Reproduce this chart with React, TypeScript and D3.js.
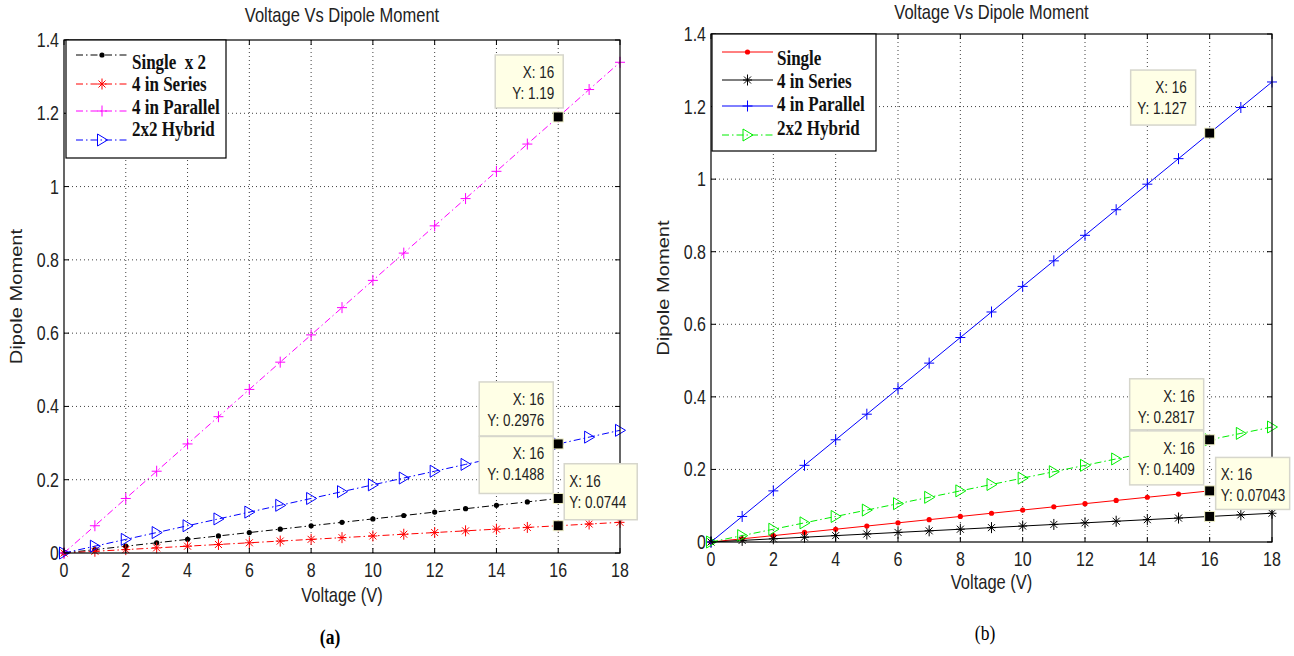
import React from "react";
import * as d3 from "d3";

// ---- data ----
const voltage = [0, 1, 2, 3, 4, 5, 6, 7, 8, 9, 10, 11, 12, 13, 14, 15, 16, 17, 18];

// panel (a)
const singleX2A = [0, 0.0093, 0.0186, 0.0279, 0.0372, 0.0465, 0.0558, 0.0651, 0.0744, 0.0837, 0.093, 0.1023, 0.1116, 0.1209, 0.1302, 0.1395, 0.1488, 0.1581, 0.1674];
const seriesA = [0, 0.0047, 0.0093, 0.014, 0.0186, 0.0233, 0.0279, 0.0326, 0.0372, 0.0419, 0.0465, 0.0512, 0.0558, 0.0605, 0.0651, 0.0698, 0.0744, 0.0791, 0.0837];
const parallelA = [0, 0.0744, 0.1488, 0.2232, 0.2976, 0.372, 0.4464, 0.5208, 0.5952, 0.6696, 0.744, 0.8184, 0.8928, 0.9672, 1.0416, 1.116, 1.19, 1.2648, 1.3392];
const hybridA = [0, 0.0186, 0.0372, 0.0558, 0.0744, 0.093, 0.1116, 0.1302, 0.1488, 0.1674, 0.186, 0.2046, 0.2232, 0.2418, 0.2604, 0.279, 0.2976, 0.3162, 0.3348];

// panel (b)
const singleB = [0, 0.0088, 0.0176, 0.0264, 0.0352, 0.044, 0.0528, 0.0616, 0.0704, 0.0793, 0.0881, 0.0969, 0.1057, 0.1145, 0.1233, 0.1321, 0.1409, 0.1497, 0.1585];
const seriesB = [0, 0.0044, 0.0088, 0.0132, 0.0176, 0.022, 0.0264, 0.0308, 0.0352, 0.0396, 0.044, 0.0484, 0.0528, 0.0572, 0.0616, 0.066, 0.0704, 0.0748, 0.0792];
const parallelB = [0, 0.0704, 0.1409, 0.2113, 0.2817, 0.3522, 0.4226, 0.493, 0.5635, 0.6339, 0.7044, 0.7748, 0.8452, 0.9157, 0.9861, 1.0565, 1.127, 1.1974, 1.2678];
const hybridB = [0, 0.0176, 0.0352, 0.0528, 0.0704, 0.088, 0.1056, 0.1232, 0.1409, 0.1585, 0.1761, 0.1937, 0.2113, 0.2289, 0.2465, 0.2641, 0.2817, 0.2993, 0.3169];

const xTicks = [0, 2, 4, 6, 8, 10, 12, 14, 16, 18];
const yTicks = [0, 0.2, 0.4, 0.6, 0.8, 1, 1.2, 1.4];
const yTickLabels = ["0", "0.2", "0.4", "0.6", "0.8", "1", "1.2", "1.4"];

const legendA = ["Single  x 2", "4 in Series", "4 in Parallel", "2x2 Hybrid"];
const legendB = ["Single", "4 in Series", "4 in Parallel", "2x2 Hybrid"];

const tipXA = [16, 16, 16, 16];
const tipYA = [1.19, 0.2976, 0.1488, 0.0744];
const tipLabelA = ["1.19", "0.2976", "0.1488", "0.0744"];
const tipXB = [16, 16, 16, 16];
const tipYB = [1.127, 0.2817, 0.1409, 0.07043];
const tipLabelB = ["1.127", "0.2817", "0.1409", "0.07043"];

const titleText = "Voltage Vs Dipole Moment";

const SANS = "'Liberation Sans', Arial, Helvetica, sans-serif";
const SERIF = "'Liberation Serif', 'Times New Roman', serif";
const DASHDOT = "7,3,1.5,3";
const STRETCH = 1.22; // the figure is stretched vertically

// text drawn with the figure's vertical stretch
function T({
  x,
  y,
  size,
  anchor = "start",
  family = SANS,
  weight = "normal",
  rotate = 0,
  fill = "#222",
  children,
}: {
  x: number;
  y: number;
  size: number;
  anchor?: string;
  family?: string;
  weight?: string;
  rotate?: number;
  fill?: string;
  children: React.ReactNode;
}) {
  const tr = rotate
    ? `translate(${x},${y}) rotate(${rotate}) scale(${STRETCH},1)`
    : `translate(${x},${y}) scale(1,${STRETCH})`;
  return (
    <text
      transform={tr}
      textAnchor={anchor}
      fontFamily={family}
      fontWeight={weight}
      fontSize={size}
      fill={fill}
      style={{ whiteSpace: "pre" }}
    >
      {children}
    </text>
  );
}

type MarkerType = "dot" | "star" | "plus" | "triR";

function Marker({ type, cx, cy, color }: { type: MarkerType; cx: number; cy: number; color: string }) {
  if (type === "dot") return <circle cx={cx} cy={cy} r={2.6} fill={color} />;
  if (type === "plus")
    return (
      <path d={`M${cx - 5},${cy}H${cx + 5}M${cx},${cy - 5.5}V${cy + 5.5}`} stroke={color} strokeWidth={1} fill="none" />
    );
  if (type === "star")
    return (
      <path
        d={`M${cx - 4.5},${cy}H${cx + 4.5}M${cx},${cy - 5.5}V${cy + 5.5}M${cx - 3.5},${cy - 3.5}L${cx + 3.5},${cy + 3.5}M${cx - 3.5},${cy + 3.5}L${cx + 3.5},${cy - 3.5}`}
        stroke={color}
        strokeWidth={1}
        fill="none"
      />
    );
  return (
    <path
      d={`M${cx - 4.5},${cy - 6}L${cx + 5.5},${cy}L${cx - 4.5},${cy + 6}Z`}
      stroke={color}
      strokeWidth={1}
      fill="none"
    />
  );
}

interface Series {
  values: number[];
  color: string;
  dash?: string;
  marker: MarkerType;
}

interface PanelProps {
  left: number;
  right: number;
  top: number;
  bottom: number;
  series: Series[];
  legendNames: string[];
  legendBox: { x: number; y: number; w: number; h: number };
  legendLineY: number[];
  legendTextY: number[];
  legendLineX: [number, number];
  tipX: number[];
  tipY: number[];
  tipLabel: string[];
  tipBoxes: { dx: number; dy: number; w: number; h: number; align: "left" | "right" }[];
  titleY: number;
  xLabelY: number;
  yLabelX: number;
  caption: string;
  captionX: number;
  captionY: number;
  captionBold: boolean;
}

function Panel(p: PanelProps) {
  const x = d3.scaleLinear().domain([0, 18]).range([p.left, p.right]);
  const y = d3.scaleLinear().domain([0, 1.4]).range([p.bottom, p.top]);
  const line = d3
    .line<number>()
    .x((_, i) => x(voltage[i]))
    .y((d) => y(d));
  const cxMid = (p.left + p.right) / 2;
  const cyMid = (p.top + p.bottom) / 2;
  const tickLen = 5;

  return (
    <g>
      {/* grid */}
      {xTicks.slice(1, -1).map((t) => (
        <line key={"gx" + t} x1={x(t)} x2={x(t)} y1={p.top} y2={p.bottom} stroke="#000" strokeOpacity={0.75} strokeDasharray="1,3" />
      ))}
      {yTicks.slice(1, -1).map((t) => (
        <line key={"gy" + t} x1={p.left} x2={p.right} y1={y(t)} y2={y(t)} stroke="#000" strokeOpacity={0.75} strokeDasharray="1,3" />
      ))}

      {/* series */}
      {p.series.map((s, si) => (
        <g key={"s" + si}>
          <path d={line(s.values) || ""} fill="none" stroke={s.color} strokeWidth={1} strokeDasharray={s.dash} />
          {s.values.map((v, i) => (
            <Marker key={i} type={s.marker} cx={x(voltage[i])} cy={y(v)} color={s.color} />
          ))}
        </g>
      ))}

      {/* frame and ticks */}
      <rect x={p.left} y={p.top} width={p.right - p.left} height={p.bottom - p.top} fill="none" stroke="#000" strokeWidth={1.2} />
      {xTicks.map((t) => (
        <g key={"tx" + t}>
          <line x1={x(t)} x2={x(t)} y1={p.bottom} y2={p.bottom - tickLen} stroke="#000" />
          <line x1={x(t)} x2={x(t)} y1={p.top} y2={p.top + tickLen} stroke="#000" />
          <T x={x(t)} y={p.bottom + 24} size={16} anchor="middle">
            {t}
          </T>
        </g>
      ))}
      {yTicks.map((t, i) => (
        <g key={"ty" + t}>
          <line x1={p.left} x2={p.left + tickLen} y1={y(t)} y2={y(t)} stroke="#000" />
          <line x1={p.right} x2={p.right - tickLen} y1={y(t)} y2={y(t)} stroke="#000" />
          <T x={p.left - 5} y={y(t) + 7} size={16} anchor="end">
            {yTickLabels[i]}
          </T>
        </g>
      ))}

      {/* labels */}
      <T x={cxMid} y={p.titleY} size={16.5} anchor="middle">
        {titleText}
      </T>
      <T x={cxMid} y={p.xLabelY} size={16.5} anchor="middle">
        Voltage (V)
      </T>
      <T x={p.yLabelX} y={cyMid} size={16.5} anchor="middle" rotate={-90}>
        Dipole Moment
      </T>
      <T
        x={p.captionX}
        y={p.captionY}
        size={17.5}
        anchor="middle"
        family={SERIF}
        weight={p.captionBold ? "bold" : "normal"}
        fill="#000"
      >
        {p.caption}
      </T>

      {/* legend */}
      <rect x={p.legendBox.x} y={p.legendBox.y} width={p.legendBox.w} height={p.legendBox.h} fill="#fff" stroke="#000" strokeWidth={1.2} />
      {p.series.map((s, i) => {
        const [lx0, lx1] = p.legendLineX;
        const ly = p.legendLineY[i];
        return (
          <g key={"lg" + i}>
            <line x1={lx0} x2={lx1} y1={ly} y2={ly} stroke={s.color} strokeDasharray={s.dash} />
            <Marker type={s.marker} cx={(lx0 + lx1) / 2} cy={ly} color={s.color} />
            <T x={lx1 + 4} y={p.legendTextY[i] + 7} size={17} family={SERIF} weight="bold" fill="#111">
              {p.legendNames[i]}
            </T>
          </g>
        );
      })}

      {/* data tips */}
      {p.tipY.map((v, i) => {
        const mx = x(p.tipX[i]);
        const my = y(v);
        const b = p.tipBoxes[i];
        const bx = mx + b.dx;
        const by = my + b.dy;
        const tx = b.align === "right" ? bx + b.w - 9 : bx + 5;
        const anchor = b.align === "right" ? "end" : "start";
        return (
          <g key={"tip" + i}>
            <rect x={bx} y={by} width={b.w} height={b.h} fill="#ffffe6" stroke="#d6d6cc" strokeWidth={1.5} />
            <T x={tx} y={by + 23} size={13.5} anchor={anchor}>
              X: {p.tipX[i]}
            </T>
            <T x={tx} y={by + 44} size={13.5} anchor={anchor}>
              Y: {p.tipLabel[i]}
            </T>
          </g>
        );
      })}
      {p.tipY.map((v, i) => (
        <rect key={"tm" + i} x={x(p.tipX[i]) - 5} y={y(v) - 5} width={10} height={10} fill="#000" stroke="#f2f2c8" strokeWidth={1} />
      ))}
    </g>
  );
}

export default function App() {
  const seriesListA: Series[] = [
    { values: singleX2A, color: "#000000", dash: DASHDOT, marker: "dot" },
    { values: seriesA, color: "#ff0000", dash: DASHDOT, marker: "star" },
    { values: parallelA, color: "#ff00ff", dash: DASHDOT, marker: "plus" },
    { values: hybridA, color: "#0000ff", dash: DASHDOT, marker: "triR" },
  ];
  const seriesListB: Series[] = [
    { values: singleB, color: "#ff0000", marker: "dot" },
    { values: seriesB, color: "#000000", marker: "star" },
    { values: parallelB, color: "#0000ff", marker: "plus" },
    { values: hybridB, color: "#00ee00", dash: DASHDOT, marker: "triR" },
  ];

  return (
    <svg width={1294} height={656} style={{ position: "absolute", left: 0, top: 0, background: "#fff" }}>
      <rect width={1294} height={656} fill="#fff" />
      <Panel
        left={64}
        right={620}
        top={40}
        bottom={553}
        series={seriesListA}
        legendNames={legendA}
        legendBox={{ x: 66, y: 40, w: 160, h: 118 }}
        legendLineY={[55, 84, 111, 140]}
        legendTextY={[62, 84, 107, 129]}
        legendLineX={[76, 128]}
        tipX={tipXA}
        tipY={tipYA}
        tipLabel={tipLabelA}
        tipBoxes={[
          { dx: -63, dy: -62, w: 68, h: 53, align: "right" },
          { dx: -79, dy: -62, w: 74, h: 54, align: "right" },
          { dx: -79, dy: -62, w: 74, h: 57, align: "right" },
          { dx: 6, dy: -62, w: 73, h: 56, align: "left" },
        ]}
        titleY={22}
        xLabelY={602}
        yLabelX={22}
        caption="(a)"
        captionX={330}
        captionY={644}
        captionBold={true}
      />
      <Panel
        left={711}
        right={1272}
        top={34}
        bottom={542}
        series={seriesListB}
        legendNames={legendB}
        legendBox={{ x: 712, y: 34, w: 164, h: 117 }}
        legendLineY={[52, 80, 106, 135]}
        legendTextY={[58, 81, 104, 128]}
        legendLineX={[722, 773]}
        tipX={tipXB}
        tipY={tipYB}
        tipLabel={tipLabelB}
        tipBoxes={[
          { dx: -79, dy: -63, w: 65, h: 55, align: "right" },
          { dx: -80, dy: -61, w: 74, h: 51, align: "right" },
          { dx: -80, dy: -60, w: 74, h: 54, align: "right" },
          { dx: 6, dy: -59, w: 74, h: 52, align: "left" },
        ]}
        titleY={19}
        xLabelY={589}
        yLabelX={669}
        caption="(b)"
        captionX={985}
        captionY={640}
        captionBold={false}
      />
    </svg>
  );
}
